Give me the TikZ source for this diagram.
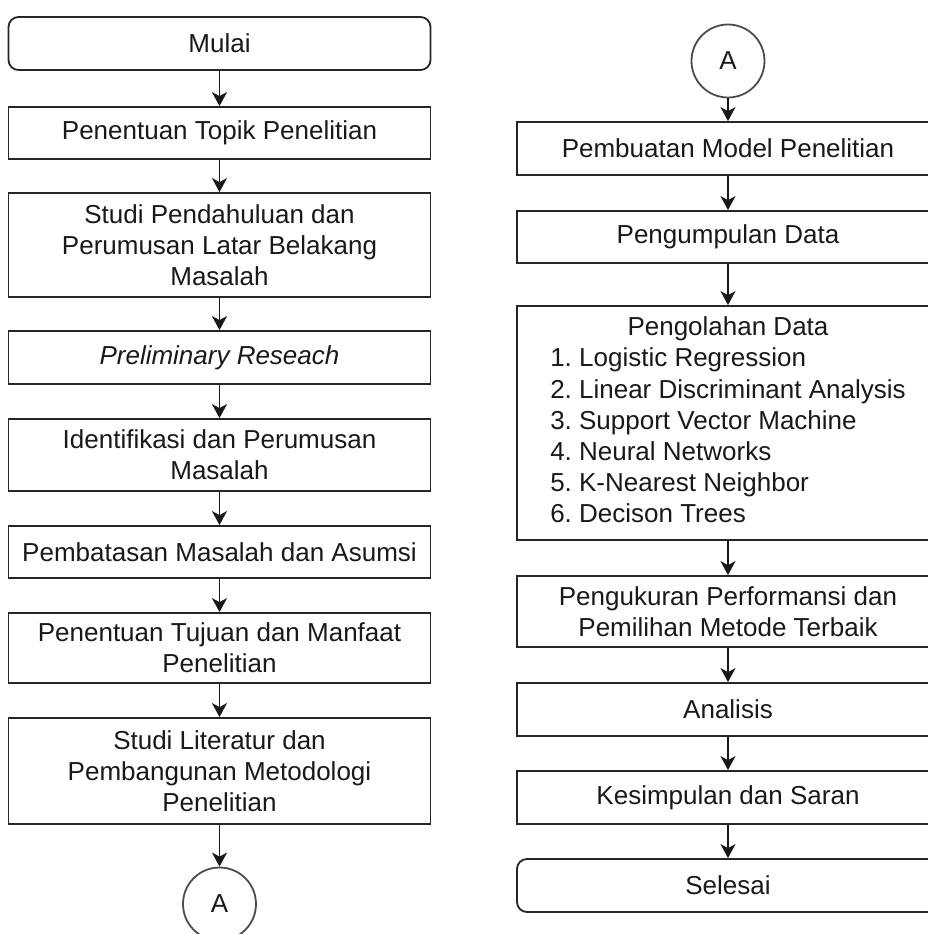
\documentclass[tikz,border=0pt]{standalone}
\usepackage{fontspec}
\setmainfont{Liberation Sans}
\usetikzlibrary{arrows.meta}
\frenchspacing

\begin{document}
\begin{tikzpicture}[x=0.5pt,y=-0.5pt,
  box/.style={draw=black!85, line width=0.9pt, minimum width=211pt,
    inner sep=0pt, align=center, text=black!90,
    font=\fontsize{13}{15.6}\selectfont},
  terminal/.style={box, rounded corners=5pt},
  penghubung/.style={circle, draw=black!70, line width=0.9pt,
    minimum size=36.5pt, inner sep=0pt, text=black!90,
    font=\fontsize{13}{15.6}\selectfont},
  panah/.style={draw=black!90, line width=0.9pt,
    -{Stealth[length=7pt,width=7.5pt,inset=2pt]}}]

% ------------------------------------------------------------------
% Page: 928 by 934 px, y runs downwards.
% Each step is given as: \langkah[style]{name}{x}{y}{height}{text}
% x and y are the centre of the box, height is in px.
% ------------------------------------------------------------------
\newcommand{\langkah}[6][box]{%
  \node[#1, minimum height=#5*0.5pt] (#2) at (#3,#4) {#6};
}

\useasboundingbox (0,0) rectangle (928,934);
\fill[white] (0,0) rectangle (928,934);

% Left column.
\langkah[terminal]{mulai}{219.5}{43.5}{53}{Mulai}
\langkah{topik}{219.5}{133}{52}{Penentuan Topik Penelitian}
\langkah{pendahuluan}{219.5}{245}{104}{Studi Pendahuluan dan\\Perumusan Latar Belakang\\Masalah}
\langkah{preliminary}{219.5}{357.5}{53}{\textit{Preliminary Reseach}}
\langkah{identifikasi}{219.5}{455}{72}{Identifikasi dan Perumusan\\Masalah}
\langkah{batasan}{219.5}{552}{52}{Pembatasan Masalah dan Asumsi}
\langkah{tujuan}{219.5}{648}{70}{Penentuan Tujuan dan Manfaat\\Penelitian}
\langkah{literatur}{219.5}{771}{106}{Studi Literatur dan\\Pembangunan Metodologi\\Penelitian}
\node[penghubung] (kiriA) at (219.5,904) {A};

% Right column.
\node[penghubung] (kananA) at (728,61) {A};
\langkah{model}{728}{148.5}{53}{Pembuatan Model Penelitian}
\langkah{kumpul}{728}{237}{52}{Pengumpulan Data}
\langkah{olah}{728}{423}{234}{%
  \begin{tabular}{@{}l@{}}
  \multicolumn{1}{@{}c@{}}{Pengolahan Data}\\
  1. Logistic Regression\\
  2. Linear Discriminant Analysis\\
  3. Support Vector Machine\\
  4. Neural Networks\\
  5. K-Nearest Neighbor\\
  6. Decison Trees
  \end{tabular}}
\langkah{ukur}{728}{611.5}{71}{Pengukuran Performansi dan\\Pemilihan Metode Terbaik}
\langkah{analisis}{728}{709.5}{53}{Analisis}
\langkah{simpulan}{728}{797.5}{53}{Kesimpulan dan Saran}
\langkah[terminal]{selesai}{728}{885.5}{53}{Selesai}

% Arrows between consecutive steps.
\foreach \a/\b in {mulai/topik, topik/pendahuluan, pendahuluan/preliminary,
    preliminary/identifikasi, identifikasi/batasan, batasan/tujuan,
    tujuan/literatur, literatur/kiriA,
    kananA/model, model/kumpul, kumpul/olah, olah/ukur,
    ukur/analisis, analisis/simpulan, simpulan/selesai}
  \draw[panah] (\a) -- (\b);

\end{tikzpicture}
\end{document}
